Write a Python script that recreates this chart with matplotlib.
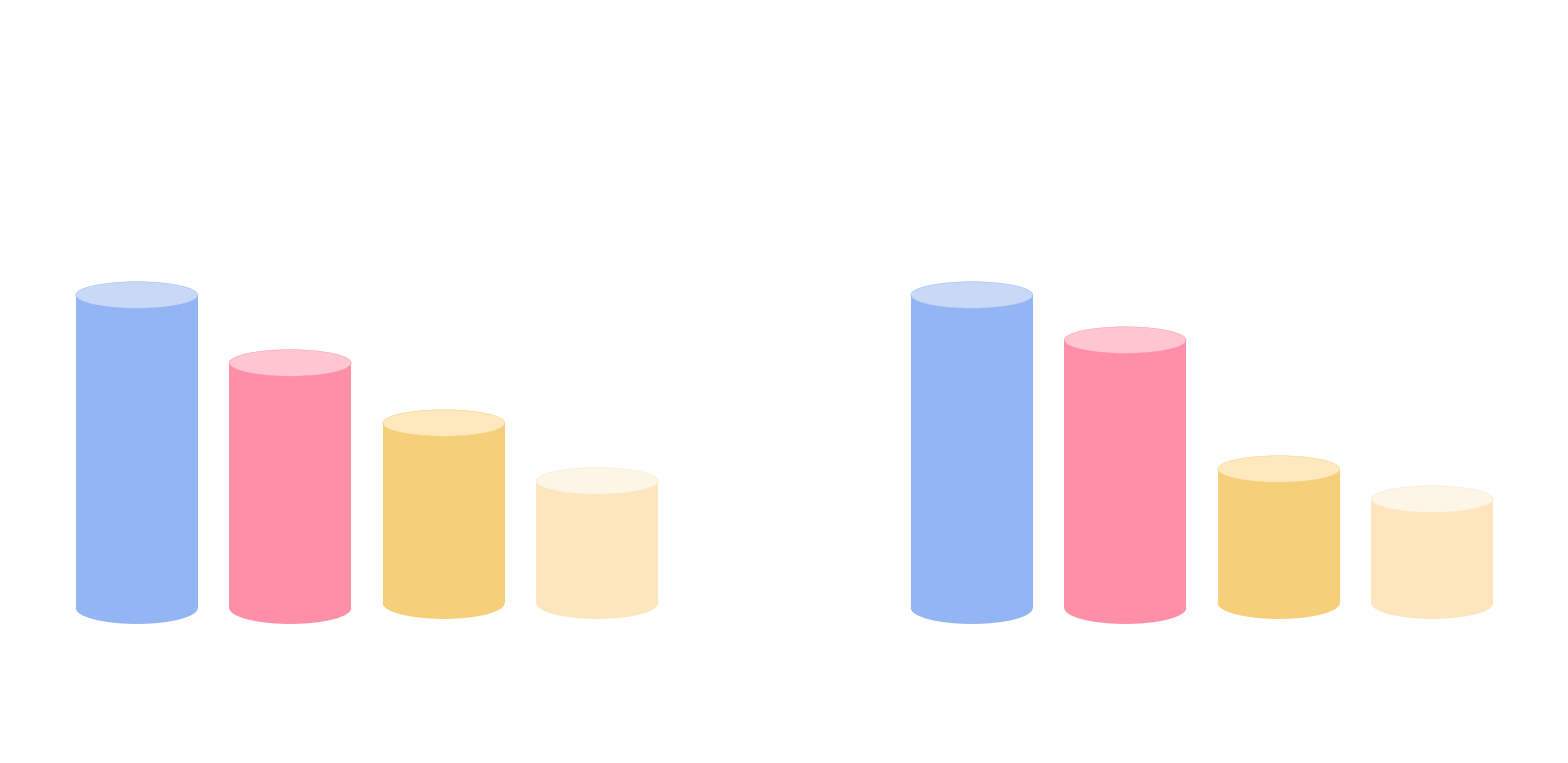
import numpy as np
from matplotlib import pyplot as plt
from matplotlib.patches import Rectangle, Ellipse

# two groups, four series each (blue = 100)
groups = ["A", "B"]
series_blue = [100.0, 100.0]
series_pink = [78.3, 85.6]
series_yellow = [59.1, 44.4]
series_light = [40.6, 34.8]

values = [series_blue, series_pink, series_yellow, series_light]
body_colors = ["#94b5f4", "#ff8fa8", "#f6cf7a", "#fde6bd"]
top_colors = ["#c8d9f8", "#ffc5d1", "#fee8bd", "#fdf5e6"]
bases = [0.0, 0.0, 1.6, 1.6]

bar_step = 0.1838
bar_width = 0.1461
top_h = 8.5     # ellipse heights in value units
bottom_h = 10.2

fig = plt.figure(figsize=(15.68, 7.63), dpi=100)
ax = fig.add_axes([0, 0, 1, 1])
ax.set_xlim(-0.4395, 1.4383)
ax.set_ylim(-49.52, 194.25)
ax.axis("off")

for i, (vals, body, top, base) in enumerate(zip(values, body_colors, top_colors, bases)):
    for g, v in enumerate(vals):
        xc = g + (i - 1.5) * bar_step
        x0 = xc - bar_width / 2
        ax.add_patch(Ellipse((xc, base), bar_width, bottom_h, facecolor=body,
                             edgecolor="none", zorder=2))
        ax.add_patch(Rectangle((x0, base), bar_width, v - base, facecolor=body,
                               edgecolor="none", zorder=3))
        ax.add_patch(Ellipse((xc, v), bar_width, top_h, facecolor=top,
                             edgecolor=body, linewidth=0.3, alpha=1.0, zorder=4))

fig.savefig("out.png", dpi=100, facecolor="white")
